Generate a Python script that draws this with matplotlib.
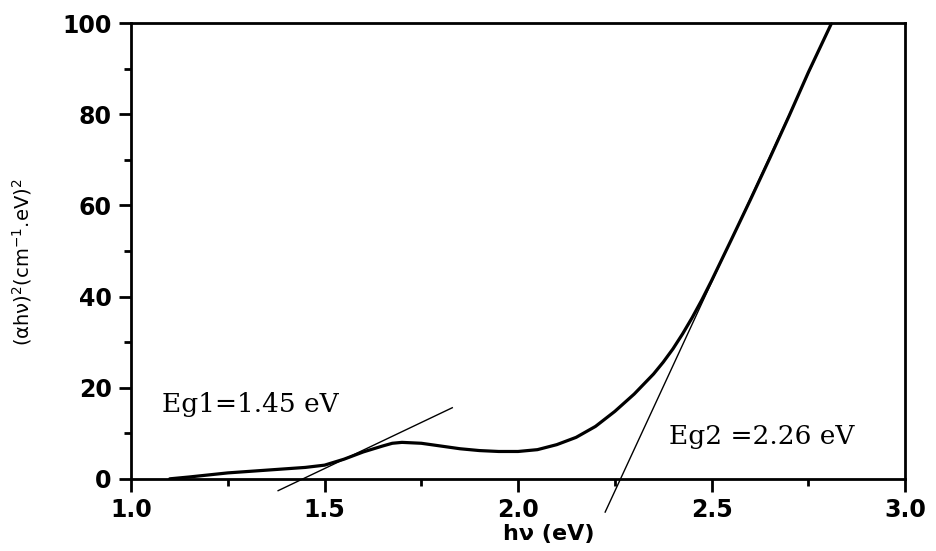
import matplotlib.pyplot as plt
from matplotlib.ticker import MultipleLocator

# data
hv = [1.10, 1.15, 1.25, 1.35, 1.45, 1.50, 1.55, 1.60, 1.65, 1.675, 1.70, 1.75,
      1.80, 1.85, 1.90, 1.95, 2.00, 2.05, 2.10, 2.15, 2.20, 2.25, 2.30, 2.35,
      2.375, 2.40, 2.425, 2.45, 2.475, 2.50, 2.55, 2.60, 2.65, 2.70, 2.75, 2.81]
ahv2 = [0.0, 0.4, 1.3, 1.9, 2.5, 3.0, 4.3, 5.9, 7.2, 7.8, 8.0, 7.8,
        7.2, 6.6, 6.2, 6.0, 6.0, 6.4, 7.5, 9.1, 11.5, 14.8, 18.6, 23.0,
        25.6, 28.5, 31.8, 35.4, 39.3, 43.5, 52.3, 61.2, 70.3, 79.6, 89.2, 100.0]

# tangent lines (end points)
tan1_x = [1.38, 1.83]
tan1_y = [-2.6, 15.6]
tan2_x = [2.225, 2.81]
tan2_y = [-7.3, 100.0]

plt.rcParams['mathtext.default'] = 'regular'

fig = plt.figure(figsize=(9.36, 5.51), dpi=100)
ax = fig.add_axes([0.140, 0.131, 0.827, 0.827])

ax.plot(hv, ahv2, color='black', lw=2.3, solid_capstyle='round',
        solid_joinstyle='round')
ax.plot(tan1_x, tan1_y, color='black', lw=1.0, clip_on=False)
ax.plot(tan2_x, tan2_y, color='black', lw=1.0, clip_on=False)

ax.set_xlim(1.0, 3.0)
ax.set_ylim(0, 100)
ax.xaxis.set_major_locator(MultipleLocator(0.5))
ax.xaxis.set_minor_locator(MultipleLocator(0.25))
ax.yaxis.set_major_locator(MultipleLocator(20))
ax.yaxis.set_minor_locator(MultipleLocator(10))
ax.xaxis.set_major_formatter(plt.FormatStrFormatter('%.1f'))

for s in ax.spines.values():
    s.set_linewidth(2.0)

ax.tick_params(which='major', direction='out', length=9, width=2, pad=5)
ax.tick_params(which='minor', direction='out', length=5, width=2)
for lab in ax.get_xticklabels() + ax.get_yticklabels():
    lab.set_fontfamily('DejaVu Sans')
    lab.set_fontweight('bold')
    lab.set_fontsize(17)

ax.set_xlabel('h\u03bd (eV)', fontfamily='DejaVu Sans', fontweight='bold',
              fontsize=16)
ax.xaxis.set_label_coords(0.54, -0.1)

ax.set_ylabel('(\u03b1h\u03bd)$^2$(cm$^{-1}$.eV)$^2$', fontfamily='DejaVu Sans',
              fontsize=14)
ax.yaxis.set_label_coords(-0.125, 0.476)

ax.text(1.08, 16.2, 'Eg1=1.45 eV', fontfamily='DejaVu Serif', fontsize=19,
        va='center', ha='left')
ax.text(2.39, 9.2, 'Eg2 =2.26 eV', fontfamily='DejaVu Serif', fontsize=19,
        va='center', ha='left')

fig.savefig('out.png', dpi=100)
